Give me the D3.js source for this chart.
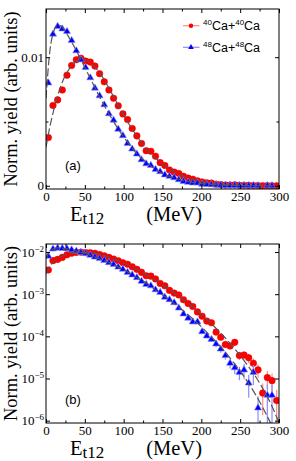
<!DOCTYPE html>
<html>
<head>
<meta charset="utf-8">
<script src="https://cdn.jsdelivr.net/npm/d3@7/dist/d3.min.js"></script>
<style>
  body { margin: 0; background: #fff; }
  svg { display: block; }
</style>
</head>
<body>
<div id="container"></div>
<script>
// bin centres (MeV)
const energies = [3, 9, 15, 21, 27, 33, 39, 45, 51, 57, 63, 69, 75, 81, 87, 93, 99, 105, 111, 117,
  123, 129, 135, 141, 147, 153, 159, 165, 171, 177, 183, 189, 195, 201, 207, 213, 219, 225, 231, 237,
  243, 249, 255, 261, 267, 273, 279, 285, 291, 297];

// 40Ca+40Ca yield
const yieldCa40 = [0.00375, 0.00625, 0.00668, 0.00745, 0.0086, 0.00936, 0.0098, 0.00992, 0.0097, 0.00962,
  0.00931, 0.00872, 0.00809, 0.00745, 0.00681, 0.00622, 0.00559, 0.00515, 0.00446, 0.00388,
  0.00329, 0.00273, 0.00268, 0.0023, 0.0018, 0.00158, 0.00123, 0.00106, 0.00096, 0.00074,
  0.0006, 0.00051, 0.00038, 0.0003, 0.00023, 0.00021, 0.000126, 9.5e-5, 6.4e-5, 5.9e-5,
  7.2e-5, 3.5e-5, 3.6e-5, 3.1e-5, 2.3e-5, 1.6e-5, 4.5e-6, 1.05e-5, 8.9e-6, 3.0e-6];
// relative errors
const errCa40 = [0.01, 0.01, 0.01, 0.01, 0.01, 0.01, 0.01, 0.01, 0.01, 0.01,
  0.01, 0.01, 0.01, 0.01, 0.01, 0.01, 0.01, 0.01, 0.01, 0.01,
  0.01, 0.01, 0.02, 0.02, 0.03, 0.03, 0.03, 0.04, 0.04, 0.05,
  0.05, 0.06, 0.07, 0.08, 0.09, 0.1, 0.12, 0.14, 0.16, 0.17,
  0.16, 0.22, 0.22, 0.25, 0.3, 0.35, 0.7, 0.45, 0.5, 0.8];

// 48Ca+48Ca yield
const yieldCa48 = [0.008, 0.0118, 0.0124, 0.0122, 0.012, 0.0113, 0.0105, 0.0098, 0.0092, 0.0084,
  0.0076, 0.007, 0.0063, 0.0056, 0.0051, 0.0044, 0.0039, 0.0033, 0.00286, 0.00247,
  0.00202, 0.00171, 0.00158, 0.00127, 0.0011, 0.00085, 0.00074, 0.00063, 0.00047, 0.00034,
  0.00027, 0.00022, 0.00022, 0.000129, 0.000102, 8.5e-5, 6.6e-5, 5.0e-5, 3.5e-5, 2.3e-5,
  1.8e-5, 1.4e-5, 1.6e-5, 7.8e-6, 1.4e-5, 2.0e-6, null, 4.0e-6, 4.0e-6, null];
const errCa48 = [0.01, 0.01, 0.01, 0.01, 0.01, 0.01, 0.01, 0.01, 0.01, 0.01,
  0.01, 0.01, 0.01, 0.01, 0.01, 0.01, 0.01, 0.01, 0.01, 0.01,
  0.01, 0.01, 0.02, 0.03, 0.03, 0.04, 0.04, 0.05, 0.05, 0.06,
  0.07, 0.08, 0.09, 0.1, 0.12, 0.14, 0.16, 0.18, 0.2, 0.25,
  0.3, 0.35, 0.4, 0.55, 0.5, 0.9, null, 0.8, 0.8, null];

// fitted curves (dashed)
const fitEnergies = [0, 5, 10, 15, 20, 25, 30, 40, 50, 60, 70, 80, 90, 100, 110, 120, 130, 140, 150,
  160, 170, 180, 190, 200, 210, 220, 230, 240, 250, 260, 270, 280, 290, 300];
const fitCa40 = [0.003, 0.0046, 0.0059, 0.007, 0.0079, 0.0086, 0.0091, 0.0097, 0.0098, 0.0094, 0.0087,
  0.0077, 0.0066, 0.0055, 0.0045, 0.0036, 0.0028, 0.0022, 0.0017, 0.00126, 0.00093, 0.00068,
  0.00048, 0.00033, 0.000224, 0.000148, 9.5e-5, 5.9e-5, 3.5e-5, 2.0e-5, 1.1e-5, 5.4e-6, 2.4e-6, 9e-7];
const fitCa48 = [0.0068, 0.0105, 0.012, 0.0125, 0.0124, 0.012, 0.0115, 0.0104, 0.0092, 0.008, 0.0068,
  0.0057, 0.0047, 0.0038, 0.003, 0.0023, 0.0018, 0.0013, 0.00096, 0.00071, 0.00051, 0.00036,
  0.00025, 0.00017, 0.00011, 7.1e-5, 4.4e-5, 2.6e-5, 1.5e-5, 8.1e-6, 4.1e-6, 1.9e-6, 8.1e-7, 3e-7];

const xTicks = [0, 50, 100, 150, 200, 250, 300];
const xMinorTicks = [25, 75, 125, 175, 225, 275];
const linTicks = [0, 0.01];
const linMinorTicks = [0.005];
const logTicks = [1e-6, 1e-5, 1e-4, 1e-3, 1e-2];

const W = 296, H = 461;
const serif = '"Liberation Serif", "Times New Roman", serif';
const sans = '"Liberation Sans", Arial, sans-serif';

const svg = d3.select('#container').append('svg')
  .attr('width', W).attr('height', H);

const x = d3.scaleLinear().domain([0, 300]).range([46, 279]);

const series = [
  { name: '40', vals: yieldCa40, err: errCa40, fit: fitCa40, color: '#ff0000', light: '#ff8c8c', sym: 'circle' },
  { name: '48', vals: yieldCa48, err: errCa48, fit: fitCa48, color: '#0000ff', light: '#8c8cff', sym: 'triangle' }
];

function panel(id, y, isLog, label) {
  const top = y.range()[1], bottom = y.range()[0];
  const g = svg.append('g').attr('class', 'panel-' + id);

  g.append('clipPath').attr('id', 'clip-' + id)
    .append('rect')
    .attr('x', x.range()[0]).attr('y', top)
    .attr('width', x.range()[1] - x.range()[0]).attr('height', bottom - top);

  const plot = g.append('g').attr('clip-path', `url(#clip-${id})`);
  const lo = y.domain()[0];

  series.forEach(s => {
    const pts = energies.map((e, i) => ({ e, v: s.vals[i], r: s.err[i] }))
      .filter(d => d.v != null && (!isLog || d.v > 0));

    // error bars
    plot.append('g').selectAll('line').data(pts).enter().append('line')
      .attr('x1', d => x(d.e)).attr('x2', d => x(d.e))
      .attr('y1', d => y(Math.max(d.v * (1 - d.r), isLog ? lo : -1)))
      .attr('y2', d => y(d.v * (1 + d.r)))
      .attr('stroke', s.light).attr('stroke-width', 1.2);

    // markers
    const mk = plot.append('g').selectAll('path').data(pts).enter().append('path')
      .attr('transform', d => `translate(${x(d.e)},${y(d.v)})`)
      .attr('fill', s.color);
    if (s.sym === 'circle') {
      mk.attr('d', d3.symbol(d3.symbolCircle, 34)).attr('stroke', '#e00000').attr('stroke-width', 0.5);
    } else {
      mk.attr('d', d3.symbol(d3.symbolTriangle, 22)).attr('stroke', s.light).attr('stroke-width', 0.6);
    }
  });

  // fits
  series.forEach(s => {
    const fd = fitEnergies.map((e, i) => [e, s.fit[i]]);
    plot.append('path').datum(fd)
      .attr('fill', 'none').attr('stroke', '#555').attr('stroke-width', 1.2)
      .attr('stroke-dasharray', '8,3')
      .attr('d', d3.line().x(d => x(d[0])).y(d => y(d[1])).curve(d3.curveMonotoneX));
  });

  // axes
  const styleAxis = a => {
    a.select('.domain').remove();
    a.selectAll('line').attr('stroke', '#000');
    a.selectAll('text').attr('font-family', serif).attr('fill', '#000');
  };
  g.append('g').attr('transform', `translate(0,${bottom})`)
    .call(d3.axisBottom(x).tickValues(xTicks).tickSizeInner(-4).tickSizeOuter(0).tickPadding(3))
    .call(styleAxis)
    .selectAll('text').attr('font-size', 13);
  g.append('g').attr('transform', `translate(0,${bottom})`)
    .call(d3.axisBottom(x).tickValues(xMinorTicks).tickSize(-2.5).tickFormat(''))
    .call(styleAxis);
  g.append('g').attr('transform', `translate(0,${top})`)
    .call(d3.axisTop(x).tickValues(xTicks).tickSize(-4).tickFormat(''))
    .call(styleAxis);
  g.append('g').attr('transform', `translate(0,${top})`)
    .call(d3.axisTop(x).tickValues(xMinorTicks).tickSize(-2.5).tickFormat(''))
    .call(styleAxis);

  const yt = isLog ? logTicks : linTicks;
  const left = g.append('g').attr('transform', `translate(${x.range()[0]},0)`)
    .call(d3.axisLeft(y).tickValues(yt).tickSizeInner(-4).tickSizeOuter(0).tickPadding(2)
      .tickFormat(isLog ? d => '' : d3.format('~g')))
    .call(styleAxis);
  left.selectAll('text').attr('font-size', 13);
  if (isLog) {
    left.selectAll('.tick text').each(function (d) {
      const t = d3.select(this);
      t.append('tspan').text('10');
      t.append('tspan').attr('dy', '-0.55em').attr('font-size', 9)
        .text('\u2212' + Math.round(-Math.log10(d)));
    });
  }
  g.append('g').attr('transform', `translate(${x.range()[1]},0)`)
    .call(d3.axisRight(y).tickValues(yt).tickSize(-4).tickFormat(''))
    .call(styleAxis);
  if (!isLog) {
    g.append('g').attr('transform', `translate(${x.range()[0]},0)`)
      .call(d3.axisLeft(y).tickValues(linMinorTicks).tickSize(-2.5).tickFormat(''))
      .call(styleAxis);
    g.append('g').attr('transform', `translate(${x.range()[1]},0)`)
      .call(d3.axisRight(y).tickValues(linMinorTicks).tickSize(-2.5).tickFormat(''))
      .call(styleAxis);
  }

  // frame
  g.append('rect')
    .attr('x', x.range()[0]).attr('y', top)
    .attr('width', x.range()[1] - x.range()[0]).attr('height', bottom - top)
    .attr('fill', 'none').attr('stroke', '#000').attr('stroke-width', 1);

  // panel tag
  g.append('text').attr('x', 65).attr('y', bottom - 19)
    .attr('font-family', sans).attr('font-size', 13).text(label);

  // axis titles
  const xl = g.append('text').attr('x', 70).attr('y', bottom + 32)
    .attr('font-family', serif).attr('font-size', 20.5);
  xl.append('tspan').text('E');
  xl.append('tspan').attr('font-size', 17).attr('dy', 3).text('t12');
  g.append('text').attr('x', 202).attr('y', bottom + 32)
    .attr('text-anchor', 'end')
    .attr('font-family', serif).attr('font-size', 20.5).text('(MeV)');

  g.append('text')
    .attr('transform', `translate(17,${(top + bottom) / 2}) rotate(-90)`)
    .attr('text-anchor', 'middle')
    .attr('font-family', serif).attr('font-size', 18.5)
    .text('Norm. yield (arb. units)');
}

panel('a', d3.scaleLinear().domain([-0.00025, 0.01375]).range([189, 9]), false, '(a)');
panel('b', d3.scaleLog().domain([8.8e-7, 0.0155]).range([423, 244]), true, '(b)');

// legend
const legend = svg.append('g').attr('class', 'legend');
series.forEach((s, i) => {
  const ly = 25.7 + i * 21.6;
  legend.append('line').attr('x1', 183).attr('x2', 199.5).attr('y1', ly).attr('y2', ly)
    .attr('stroke', s.light).attr('stroke-width', 1.2);
  legend.append('path').attr('transform', `translate(191,${ly})`)
    .attr('d', d3.symbol(s.sym === 'circle' ? d3.symbolCircle : d3.symbolTriangle, s.sym === 'circle' ? 16 : 14))
    .attr('fill', s.color);
  const t = legend.append('text').attr('x', 203).attr('y', ly + 4.5)
    .attr('font-family', sans).attr('font-size', 12.5);
  t.append('tspan').attr('font-size', 8).attr('dy', -5).text(s.name);
  t.append('tspan').attr('dy', 5).text('Ca+');
  t.append('tspan').attr('font-size', 8).attr('dy', -5).text(s.name);
  t.append('tspan').attr('dy', 5).text('Ca');
});
</script>
</body>
</html>
